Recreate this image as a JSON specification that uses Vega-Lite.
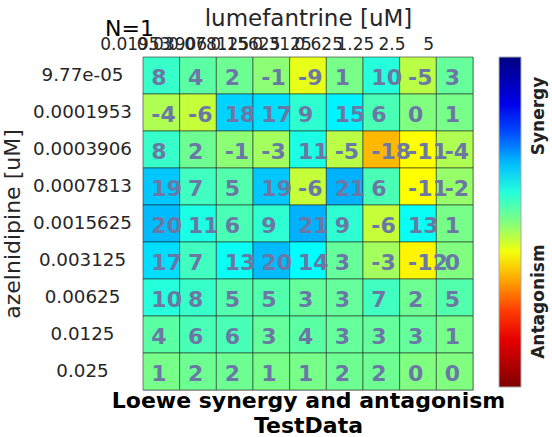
{
  "$schema": "https://vega.github.io/schema/vega-lite/v6.json",
  "width": 330,
  "height": 333,
  "autosize": {"type": "none"},
  "padding": {"left": 143, "top": 57, "right": 79, "bottom": 47},
  "background": "white",
  "config": {"font": "DejaVu Sans", "view": {"stroke": "#c8c8c8"}},
  "title": {"text": "N=1", "anchor": "start", "frame": "group", "fontSize": 22, "fontWeight": "normal", "color": "#000", "dx": -38, "dy": 38},
  "data": {"values": [
    {"aze": "9.77e-05", "lum": "0.01953", "v": 8}, {"aze": "9.77e-05", "lum": "0.03906", "v": 4}, {"aze": "9.77e-05", "lum": "0.078125", "v": 2}, {"aze": "9.77e-05", "lum": "0.15625", "v": -1}, {"aze": "9.77e-05", "lum": "0.3125", "v": -9}, {"aze": "9.77e-05", "lum": "0.625", "v": 1}, {"aze": "9.77e-05", "lum": "1.25", "v": 10}, {"aze": "9.77e-05", "lum": "2.5", "v": -5}, {"aze": "9.77e-05", "lum": "5", "v": 3},
    {"aze": "0.0001953", "lum": "0.01953", "v": -4}, {"aze": "0.0001953", "lum": "0.03906", "v": -6}, {"aze": "0.0001953", "lum": "0.078125", "v": 18}, {"aze": "0.0001953", "lum": "0.15625", "v": 17}, {"aze": "0.0001953", "lum": "0.3125", "v": 9}, {"aze": "0.0001953", "lum": "0.625", "v": 15}, {"aze": "0.0001953", "lum": "1.25", "v": 6}, {"aze": "0.0001953", "lum": "2.5", "v": 0}, {"aze": "0.0001953", "lum": "5", "v": 1},
    {"aze": "0.0003906", "lum": "0.01953", "v": 8}, {"aze": "0.0003906", "lum": "0.03906", "v": 2}, {"aze": "0.0003906", "lum": "0.078125", "v": -1}, {"aze": "0.0003906", "lum": "0.15625", "v": -3}, {"aze": "0.0003906", "lum": "0.3125", "v": 11}, {"aze": "0.0003906", "lum": "0.625", "v": -5}, {"aze": "0.0003906", "lum": "1.25", "v": -18}, {"aze": "0.0003906", "lum": "2.5", "v": -11}, {"aze": "0.0003906", "lum": "5", "v": -4},
    {"aze": "0.0007813", "lum": "0.01953", "v": 19}, {"aze": "0.0007813", "lum": "0.03906", "v": 7}, {"aze": "0.0007813", "lum": "0.078125", "v": 5}, {"aze": "0.0007813", "lum": "0.15625", "v": 19}, {"aze": "0.0007813", "lum": "0.3125", "v": -6}, {"aze": "0.0007813", "lum": "0.625", "v": 21}, {"aze": "0.0007813", "lum": "1.25", "v": 6}, {"aze": "0.0007813", "lum": "2.5", "v": -11}, {"aze": "0.0007813", "lum": "5", "v": -2},
    {"aze": "0.0015625", "lum": "0.01953", "v": 20}, {"aze": "0.0015625", "lum": "0.03906", "v": 11}, {"aze": "0.0015625", "lum": "0.078125", "v": 6}, {"aze": "0.0015625", "lum": "0.15625", "v": 9}, {"aze": "0.0015625", "lum": "0.3125", "v": 21}, {"aze": "0.0015625", "lum": "0.625", "v": 9}, {"aze": "0.0015625", "lum": "1.25", "v": -6}, {"aze": "0.0015625", "lum": "2.5", "v": 13}, {"aze": "0.0015625", "lum": "5", "v": 1},
    {"aze": "0.003125", "lum": "0.01953", "v": 17}, {"aze": "0.003125", "lum": "0.03906", "v": 7}, {"aze": "0.003125", "lum": "0.078125", "v": 13}, {"aze": "0.003125", "lum": "0.15625", "v": 20}, {"aze": "0.003125", "lum": "0.3125", "v": 14}, {"aze": "0.003125", "lum": "0.625", "v": 3}, {"aze": "0.003125", "lum": "1.25", "v": -3}, {"aze": "0.003125", "lum": "2.5", "v": -12}, {"aze": "0.003125", "lum": "5", "v": 0},
    {"aze": "0.00625", "lum": "0.01953", "v": 10}, {"aze": "0.00625", "lum": "0.03906", "v": 8}, {"aze": "0.00625", "lum": "0.078125", "v": 5}, {"aze": "0.00625", "lum": "0.15625", "v": 5}, {"aze": "0.00625", "lum": "0.3125", "v": 3}, {"aze": "0.00625", "lum": "0.625", "v": 3}, {"aze": "0.00625", "lum": "1.25", "v": 7}, {"aze": "0.00625", "lum": "2.5", "v": 2}, {"aze": "0.00625", "lum": "5", "v": 5},
    {"aze": "0.0125", "lum": "0.01953", "v": 4}, {"aze": "0.0125", "lum": "0.03906", "v": 6}, {"aze": "0.0125", "lum": "0.078125", "v": 6}, {"aze": "0.0125", "lum": "0.15625", "v": 3}, {"aze": "0.0125", "lum": "0.3125", "v": 4}, {"aze": "0.0125", "lum": "0.625", "v": 3}, {"aze": "0.0125", "lum": "1.25", "v": 3}, {"aze": "0.0125", "lum": "2.5", "v": 3}, {"aze": "0.0125", "lum": "5", "v": 1},
    {"aze": "0.025", "lum": "0.01953", "v": 1}, {"aze": "0.025", "lum": "0.03906", "v": 2}, {"aze": "0.025", "lum": "0.078125", "v": 2}, {"aze": "0.025", "lum": "0.15625", "v": 1}, {"aze": "0.025", "lum": "0.3125", "v": 1}, {"aze": "0.025", "lum": "0.625", "v": 2}, {"aze": "0.025", "lum": "1.25", "v": 2}, {"aze": "0.025", "lum": "2.5", "v": 0}, {"aze": "0.025", "lum": "5", "v": 0}
  ]},
  "encoding": {
    "y": {
      "field": "aze", "type": "ordinal",
      "sort": ["9.77e-05", "0.0001953", "0.0003906", "0.0007813", "0.0015625", "0.003125", "0.00625", "0.0125", "0.025"],
      "axis": {"orient": "left", "ticks": false, "domain": false, "labelAlign": "center", "labelPadding": 61, "labelFontSize": 18.3, "labelColor": "#262626", "title": "azelnidipine [uM]", "titleFontSize": 22, "titleFontWeight": "normal", "titleColor": "#262626", "titlePadding": 8}
    }
  },
  "layer": [
    {
      "mark": {"type": "rect", "stroke": "#222", "strokeWidth": 0.8, "strokeOpacity": 0.7},
      "encoding": {
        "x": {
          "field": "lum", "type": "ordinal",
          "sort": ["0.01953", "0.03906", "0.078125", "0.15625", "0.3125", "0.625", "1.25", "2.5", "5"],
          "axis": {"orient": "top", "ticks": false, "domain": false, "labelAngle": 0, "labelOverlap": false, "labelFontSize": 17, "labelColor": "#262626", "labelOffset": -26, "labelPadding": 4, "title": "lumefantrine [uM]", "titleFontSize": 23, "titleFontWeight": "normal", "titleColor": "#262626", "titlePadding": 5}
        },
        "color": {
          "field": "v", "type": "quantitative",
          "scale": {"domain": [-56, -36, -11, 0, 14, 37, 56], "range": ["#800000", "#ff0000", "#ffff00", "#80ff80", "#00ffff", "#0000ff", "#000080"], "interpolate": "rgb"},
          "legend": {
            "title": null, "orient": "right", "offset": 26, "gradientLength": 330, "gradientThickness": 22,
            "gradientStrokeColor": "#aaa", "gradientStrokeWidth": 1,
            "values": [36, -27],
            "labelExpr": "datum.value > 0 ? 'Synergy' : 'Antagonism'",
            "labelFontSize": 17, "labelFontWeight": "bold", "labelColor": "#222", "labelOffset": 10,
            "encode": {"labels": {"update": {"angle": {"value": -90}, "align": {"value": "center"}, "baseline": {"value": "top"}}}}
          }
        }
      }
    },
    {
      "mark": {"type": "text", "align": "left", "dx": -10, "baseline": "middle", "dy": 2, "fontSize": 22, "fontWeight": "bold", "color": "#6b78a5"},
      "encoding": {
        "x": {
          "field": "lum", "type": "ordinal",
          "sort": ["0.01953", "0.03906", "0.078125", "0.15625", "0.3125", "0.625", "1.25", "2.5", "5"],
          "axis": {"orient": "bottom", "labels": false, "ticks": false, "domain": false, "title": ["Loewe synergy and antagonism", "TestData"], "titleFontSize": 22, "titleFontWeight": "bold", "titleColor": "#000", "titlePadding": 0, "titleLineHeight": 25}
        },
        "text": {"field": "v", "type": "nominal"}
      }
    }
  ],
  "resolve": {"axis": {"x": "independent"}}
}
